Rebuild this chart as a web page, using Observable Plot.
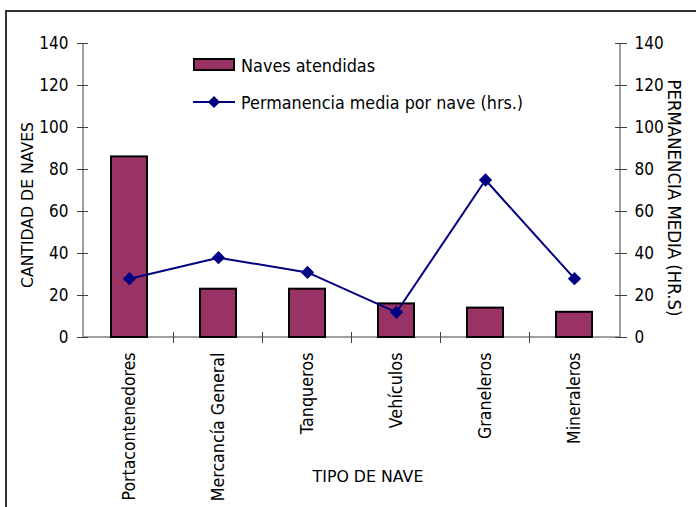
<!DOCTYPE html>
<html>
<head>
<meta charset="utf-8">
<script src="https://cdn.jsdelivr.net/npm/d3@7"></script>
<script src="https://cdn.jsdelivr.net/npm/@observablehq/plot@0.6"></script>
<style>
  html, body { margin: 0; padding: 0; background: white; }
  #chart { width: 696px; height: 507px; overflow: hidden; }
</style>
</head>
<body>
<div id="chart"></div>
<script>
// ---- data ----
const categories = ["Portacontenedores", "Mercancía General", "Tanqueros", "Vehículos", "Graneleros", "Mineraleros"];
const naves = [86, 23, 23, 16, 14, 12];
const permanencia = [28, 38, 31, 12, 75, 28];
const yTicks = [0, 20, 40, 60, 80, 100, 120, 140];
const seriesNames = ["Naves atendidas", "Permanencia media por nave (hrs.)"];
const titles = { left: "CANTIDAD DE NAVES", right: "PERMANENCIA MEDIA (HR.S)", bottom: "TIPO DE NAVE" };

const rows = categories.map((c, i) => ({ cat: c, naves: naves[i], perm: permanencia[i] }));

const BAR = "#993366", LINE = "#000080", AXIS = "#808080", TICK = "#404040";

// axis lines + boundary ticks between categories, from the scales
function frameAndTicks(index, scales, values, dims) {
  const x = scales.x, y = scales.y;
  const bw = x.bandwidth();
  const g = d3.create("svg:g").attr("fill", "none");
  const x0 = dims.marginLeft, x1 = dims.width - dims.marginRight;
  const y0 = y(0), yTop = y(140);
  g.append("line").attr("x1", x0).attr("x2", x1).attr("y1", y0).attr("y2", y0).attr("stroke", AXIS).attr("stroke-width", 1.5);
  g.append("line").attr("x1", x0).attr("x2", x0).attr("y1", y0).attr("y2", yTop).attr("stroke", AXIS).attr("stroke-width", 1.5);
  g.append("line").attr("x1", x1).attr("x2", x1).attr("y1", y0).attr("y2", yTop).attr("stroke", AXIS).attr("stroke-width", 1.5);
  for (let i = 1; i < categories.length; i++) {
    const px = (x(categories[i - 1]) + x(categories[i]) + bw) / 2;
    g.append("line").attr("x1", px).attr("x2", px).attr("y1", y0 - 5).attr("y2", y0 + 6).attr("stroke", TICK);
  }
  return g.node();
}

const plot = Plot.plot({
  width: 696,
  height: 507,
  marginTop: 43,
  marginBottom: 170,
  marginLeft: 83,
  marginRight: 76,
  x: { domain: categories, paddingInner: 0.6, paddingOuter: 0.3, align: 0.5, axis: null, label: null },
  y: { domain: [0, 140], axis: null, label: null },
  style: { fontFamily: "DejaVu Sans", fontSize: "17.5px", color: "black", background: "white", overflow: "visible" },
  marks: [
    frameAndTicks,
    Plot.barY(rows, { x: "cat", y: "naves", fill: BAR, stroke: "black", strokeWidth: 2 }),
    Plot.line(rows, { x: "cat", y: "perm", stroke: LINE, strokeWidth: 2 }),
    Plot.dot(rows, { x: "cat", y: "perm", symbol: "diamond2", r: 6, fill: LINE, stroke: null }),
    Plot.axisY({ anchor: "left", ticks: yTicks, tickSize: 11, dx: 5, tickPadding: 9, stroke: TICK, fill: "black", label: null, fontSize: 17.5 }),
    Plot.axisY({ anchor: "right", ticks: yTicks, tickSize: 12, dx: -6, tickPadding: 8, stroke: TICK, fill: "black", label: null, fontSize: 17.5 }),
    Plot.axisX({ tickSize: 0, tickRotate: -90, tickPadding: 15, fill: "black", label: null, fontSize: 17.5 })
  ]
});

document.getElementById("chart").appendChild(plot);

// ---- extra SVG elements: border, titles, legend ----
const svg = d3.select(plot);
// outer border (left + top, clipped at the window edges)
svg.append("path").attr("d", "M6,507V11H696").attr("fill", "none").attr("stroke", "#333").attr("stroke-width", 2);

svg.append("text").text(titles.left)
  .attr("transform", "translate(33,205) rotate(-90)")
  .attr("text-anchor", "middle").attr("font-size", 16).attr("fill", "black");
svg.append("text").text(titles.right)
  .attr("transform", "translate(668,198) rotate(90)")
  .attr("text-anchor", "middle").attr("font-size", 16.8).attr("fill", "black");
svg.append("text").text(titles.bottom)
  .attr("x", 368).attr("y", 482)
  .attr("text-anchor", "middle").attr("font-size", 16).attr("fill", "black");

const lg = svg.append("g").attr("text-anchor", "start");
lg.append("rect").attr("x", 194).attr("y", 59).attr("width", 40).attr("height", 11)
  .attr("fill", BAR).attr("stroke", "black").attr("stroke-width", 2);
lg.append("text").text(seriesNames[0]).attr("x", 241).attr("y", 72).attr("font-size", 18).attr("fill", "black").attr("text-anchor", "start");
lg.append("line").attr("x1", 193).attr("x2", 235).attr("y1", 102).attr("y2", 102).attr("stroke", LINE).attr("stroke-width", 2);
lg.append("path").attr("d", d3.symbol(d3.symbolDiamond2, Math.PI * 30)()).attr("transform", "translate(214,102)").attr("fill", LINE);
lg.append("text").text(seriesNames[1]).attr("x", 241).attr("y", 109).attr("font-size", 18).attr("fill", "black").attr("text-anchor", "start");

// ---- fit DejaVu glyphs into Arial-metric widths (as in the reference) ----
const ctx = document.createElement("canvas").getContext("2d");
plot.querySelectorAll("text").forEach(t => {
  if (t.querySelector("tspan")) return;
  const fs = getComputedStyle(t).fontSize;
  ctx.font = `${fs} "Liberation Sans"`;
  const w = ctx.measureText(t.textContent).width;
  if (w > 0) {
    t.setAttribute("textLength", w.toFixed(1));
    t.setAttribute("lengthAdjust", "spacingAndGlyphs");
  }
  t.style.fontFamily = "DejaVu Sans";
});
</script>
</body>
</html>
